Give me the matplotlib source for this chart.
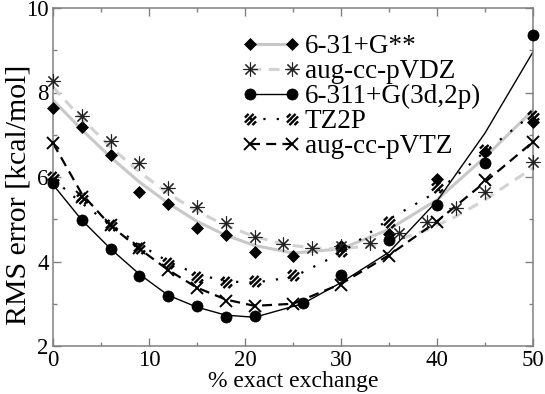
import matplotlib
matplotlib.use("Agg")
import matplotlib.pyplot as plt
from matplotlib.path import Path
from matplotlib.lines import Line2D
import numpy as np

plt.rcParams['font.family'] = ['Liberation Serif', 'DejaVu Serif']

# ---- data -------------------------------------------------------------
labels = ["6-31+G**", "aug-cc-pVDZ", "6-311+G(3d,2p)", "TZ2P", "aug-cc-pVTZ"]

x_631 = [0, 3, 6, 9, 12, 15, 18, 21, 25, 30, 35, 40, 45, 50]
y_631 = [7.63, 7.18, 6.52, 5.64, 5.36, 4.80, 4.62, 4.23, 4.12, 4.36, 4.65, 5.96, 6.60, 7.30]
fit_631 = [7.82, 7.12, 6.47, 5.88, 5.38, 4.95, 4.62, 4.38, 4.20, 4.30, 4.76, 5.46, 6.47, 7.58]

x_vdz = [0, 3, 6, 9, 12, 15, 18, 21, 24, 27, 30, 33, 36, 39, 42, 45, 50]
y_vdz = [8.27, 7.44, 6.85, 6.33, 5.74, 5.29, 4.91, 4.58, 4.42, 4.32, 4.36, 4.44, 4.67, 4.93, 5.27, 5.64, 6.36]
fit_vdz = [8.13, 7.38, 6.71, 6.12, 5.61, 5.19, 4.85, 4.59, 4.41, 4.32, 4.30, 4.37, 4.52, 4.75, 5.07, 5.46, 6.22]

x_311 = [0, 3, 6, 9, 12, 15, 18, 21, 26, 30, 35, 40, 45, 50]
y_311 = [5.86, 4.98, 4.30, 3.66, 3.18, 2.95, 2.69, 2.71, 3.02, 3.68, 4.51, 5.34, 6.33, 9.36]
fit_311 = [5.82, 4.98, 4.30, 3.70, 3.20, 2.92, 2.73, 2.68, 3.00, 3.50, 4.22, 5.43, 7.04, 8.96]

x_tz = [0, 3, 6, 9, 12, 15, 18, 21, 25, 30, 35, 40, 45, 50]
y_tz = [6.00, 5.50, 4.86, 4.32, 3.97, 3.63, 3.51, 3.53, 3.69, 4.26, 4.93, 5.76, 6.64, 7.45]
fit_tz = [5.95, 5.38, 4.87, 4.40, 4.00, 3.70, 3.53, 3.50, 3.63, 4.20, 5.00, 5.65, 6.60, 7.50]

x_vtz = [0, 3, 6, 9, 12, 15, 18, 21, 25, 30, 35, 40, 45, 50]
y_vtz = [6.80, 5.53, 4.86, 4.32, 3.80, 3.37, 3.07, 2.94, 2.99, 3.44, 4.13, 4.93, 5.93, 6.83]
fit_vtz = [6.80, 5.60, 4.85, 4.30, 3.80, 3.38, 3.10, 2.95, 3.00, 3.47, 4.15, 4.95, 5.88, 6.83]

xticks = [0, 10, 20, 30, 40, 50]
yticks = [2, 4, 6, 8, 10]

# ---- hatched-square marker ------------------------------------------
verts, codes = [], []
for c in [-1.35, -0.45, 0.45, 1.35]:
    x0 = max(-1.0, -1.0 - c)
    x1 = min(1.0, 1.0 - c)
    verts += [(x0, x0 + c), (x1, x1 + c)]
    codes += [Path.MOVETO, Path.LINETO]
verts += [(-1, -1), (1, 1)]
codes += [Path.MOVETO, Path.MOVETO]
hatch_marker = Path(verts, codes)

# ---- figure -----------------------------------------------------------
fig = plt.figure(figsize=(5.45, 3.94), dpi=100)
ax = fig.add_axes([53/545, 48/394, 480/545, 338/394])

gray = '#c8c8c8'
styles = [
    dict(x=x_631, y=y_631, f=fit_631, lc=gray, lw=2.2, ls='-',
         mk=dict(marker='D', ms=6.5, mfc='black', mec='black', mew=0.5)),
    dict(x=x_vdz, y=y_vdz, f=fit_vdz, lc='#d2d2d2', lw=2.2, ls=(0, (3.5, 2.5)),
         mk=dict(marker=(8, 2, 0), ms=10, mfc='none', mec='#222222', mew=0.8)),
    dict(x=x_311, y=y_311, f=fit_311, lc='black', lw=1.0, ls='-',
         mk=dict(marker='o', ms=8, mfc='black', mec='black', mew=0.5)),
    dict(x=x_tz, y=y_tz, f=fit_tz, lc='black', lw=1.6, ls=(0, (1, 5)),
         mk=dict(marker=hatch_marker, ms=8, mfc='none', mec='black', mew=1.7)),
    dict(x=x_vtz, y=y_vtz, f=fit_vtz, lc='black', lw=1.6, ls=(0, (4.5, 2.8)),
         mk=dict(marker='x', ms=8, mfc='none', mec='black', mew=1.4)),
]

handles = []
for i, s in enumerate(styles):
    ax.plot(s['x'], s['f'], color=s['lc'], lw=s['lw'], ls=s['ls'], zorder=2 + i * 0.1)
for i, s in enumerate(styles):
    ax.plot(s['x'], s['y'], ls='none', clip_on=False, zorder=3 + i * 0.1, **s['mk'])
    handles.append(Line2D([], [], color=s['lc'], lw=s['lw'], ls=s['ls'], **s['mk']))

ax.set_xlim(0, 50)
ax.set_ylim(2, 10)
ax.set_xticks(xticks)
ax.set_yticks(yticks)
ax.set_xticks([5, 15, 25, 35, 45], minor=True)
ax.set_yticks([3, 5, 7, 9], minor=True)

spine_c = '#808080'
for sp in ax.spines.values():
    sp.set_color(spine_c)
    sp.set_linewidth(1.1)
ax.tick_params(which='both', direction='in', top=True, right=True, color=spine_c,
               width=1.0, labelsize=16.5, labelcolor='black')
ax.tick_params(which='major', length=5.8, pad=3)
ax.tick_params(which='minor', length=3.2)

ax.set_xlabel('% exact exchange', fontsize=17, labelpad=0)
ax.set_ylabel('RMS error [kcal/mol]', fontsize=21.5)
ax.yaxis.set_label_coords(-0.044, 0.447)

leg = ax.legend(handles, labels, loc='upper left', bbox_to_anchor=(242/545, 1 - 34/394),
                bbox_transform=fig.transFigure, frameon=False, fontsize=19.5,
                numpoints=2, handlelength=2.15, handletextpad=0.17, labelspacing=0.0,
                borderpad=0, borderaxespad=0)

fig.savefig('out.png', dpi=100)
